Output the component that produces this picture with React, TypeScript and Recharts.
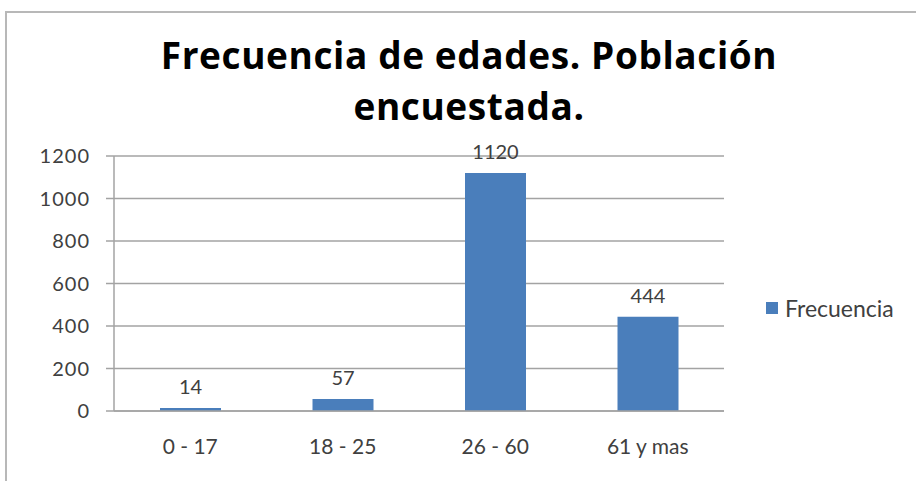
import { BarChart, Bar, XAxis, YAxis, CartesianGrid, LabelList, Legend } from "recharts";

const categories = ["0 - 17", "18 - 25", "26 - 60", "61 y mas"];
const frecuencia = [14, 57, 1120, 444];
const yTicks = [0, 200, 400, 600, 800, 1000, 1200];
const edgeTicks = categories.map((_, i) => i).concat(categories.length);

const chartData = categories.map((c, i) => ({ rango: c, Frecuencia: frecuencia[i] }));

const GRID = "#a3a3a3";
const TEXT = "#404040";
const BAR = "#4a7ebb";
const FONT = "Lato, 'Open Sans', sans-serif";

function LegendBox() {
  return (
    <div style={{ display: "flex", alignItems: "center", fontFamily: FONT, fontSize: 23, color: TEXT }}>
      <span style={{ width: 12, height: 12, background: BAR, display: "inline-block", marginRight: 7 }} />
      Frecuencia
    </div>
  );
}

export default function App() {
  return (
    <div style={{ position: "absolute", left: 0, top: 0, width: 916, height: 481, background: "#fff", overflow: "hidden" }}>
      <div
        style={{
          position: "absolute",
          left: 5,
          top: 11,
          right: 0,
          bottom: 0,
          borderTop: "2px solid #b8b8b8",
          borderLeft: "2px solid #b8b8b8",
        }}
      />
      <div
        style={{
          position: "absolute",
          left: 0,
          top: 29,
          width: 938,
          textAlign: "center",
          fontFamily: "'Open Sans', sans-serif",
          fontWeight: 700,
          fontSize: 37,
          letterSpacing: 0.6,
          lineHeight: "51px",
          color: "#000",
        }}
      >
        Frecuencia de edades. Población
        <br />
        encuestada.
      </div>
      <BarChart
        width={916}
        height={481}
        data={chartData}
        margin={{ top: 156, right: 192, left: 0, bottom: 0 }}
        style={{ position: "absolute", left: 0, top: 0 }}
      >
        <CartesianGrid vertical={false} stroke={GRID} strokeWidth={1.5} />
        <XAxis
          xAxisId="edge"
          type="number"
          domain={[0, categories.length]}
          ticks={edgeTicks}
          tick={false}
          axisLine={false}
          tickLine={{ stroke: GRID, strokeWidth: 1.5 }}
          tickSize={7}
          height={0}
        />
        <XAxis
          xAxisId="cat"
          dataKey="rango"
          axisLine={{ stroke: GRID, strokeWidth: 1.5 }}
          tickLine={false}
          tickSize={0}
          tickMargin={28}
          height={70}
          tick={{ fill: TEXT, fontSize: 21, fontFamily: FONT }}
        />
        <YAxis
          width={114}
          domain={[0, 1200]}
          ticks={yTicks}
          axisLine={{ stroke: GRID, strokeWidth: 1.5 }}
          tickLine={{ stroke: GRID, strokeWidth: 1.5 }}
          tickSize={8}
          tickMargin={16}
          tick={{ fill: TEXT, fontSize: 20, fontFamily: FONT, letterSpacing: 1 }}
        />
        <Legend
          layout="vertical"
          align="center"
          verticalAlign="middle"
          content={() => <LegendBox />}
          wrapperStyle={{ left: 766, top: 294, width: "auto" }}
        />
        <Bar xAxisId="cat" dataKey="Frecuencia" fill={BAR} barSize={61} isAnimationActive={false}>
          <LabelList dataKey="Frecuencia" position="top" offset={14} fill={TEXT} fontSize={20} fontFamily={FONT} />
        </Bar>
      </BarChart>
    </div>
  );
}
